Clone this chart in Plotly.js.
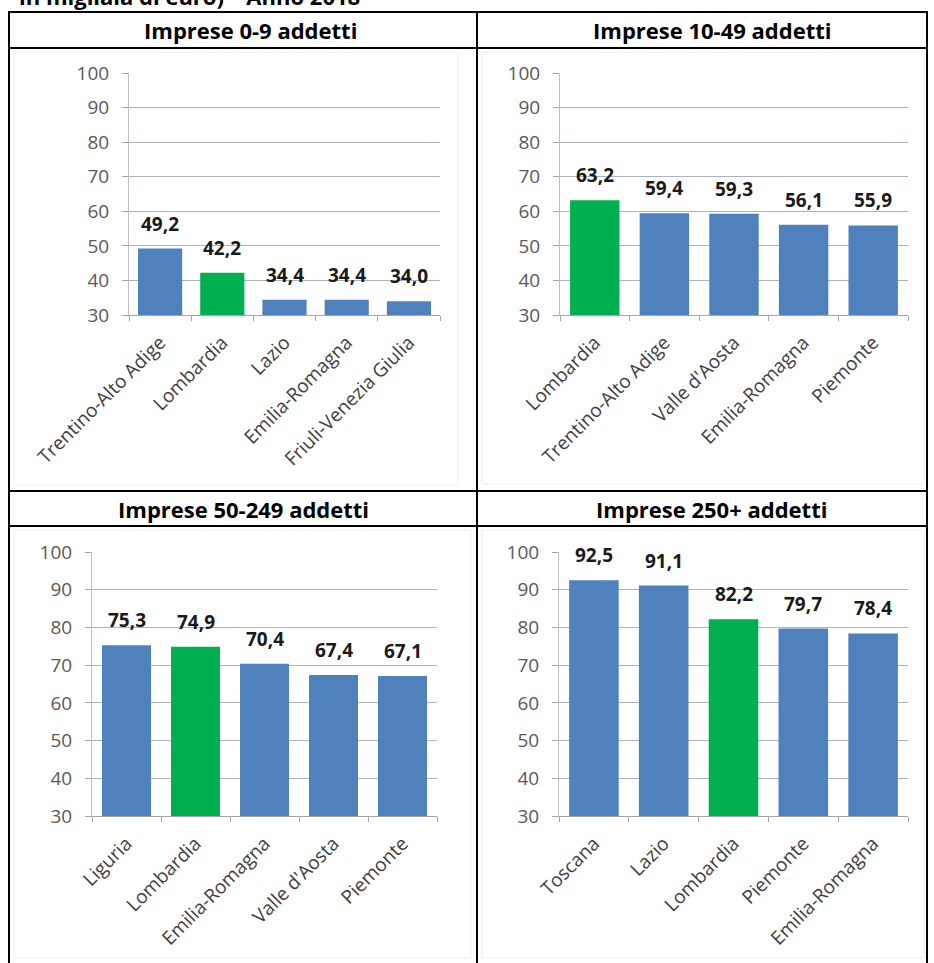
<!DOCTYPE html>
<html>
<head>
<meta charset="utf-8">
<script src="https://cdn.plot.ly/plotly-3.0.1.min.js"></script>
<style>
  html, body { margin: 0; padding: 0; background: #ffffff; }
  #chart { width: 934px; height: 963px; }
</style>
</head>
<body>
<div id="chart"></div>
<script>
// Regions and values (thousands of euro) per firm-size class
const regions09 = ['Trentino-Alto Adige', 'Lombardia', 'Lazio', 'Emilia-Romagna', 'Friuli-Venezia Giulia'];
const values09 = [49.2, 42.2, 34.4, 34.4, 34.0];

const regions1049 = ['Lombardia', 'Trentino-Alto Adige', "Valle d'Aosta", 'Emilia-Romagna', 'Piemonte'];
const values1049 = [63.2, 59.4, 59.3, 56.1, 55.9];

const regions50249 = ['Liguria', 'Lombardia', 'Emilia-Romagna', "Valle d'Aosta", 'Piemonte'];
const values50249 = [75.3, 74.9, 70.4, 67.4, 67.1];

const regions250 = ['Toscana', 'Lazio', 'Lombardia', 'Piemonte', 'Emilia-Romagna'];
const values250 = [92.5, 91.1, 82.2, 79.7, 78.4];

const panelTitles = ['Imprese 0-9 addetti', 'Imprese 10-49 addetti', 'Imprese 50-249 addetti', 'Imprese 250+ addetti'];
const topCaption = 'in migliaia di euro) \u2013 Anno 2018';
const yTickValues = [30, 40, 50, 60, 70, 80, 90, 100];
const highlightRegion = 'Lombardia';

// ---- page geometry (pixels) ----
const W = 934, H = 963;
const px = v => v / W;
const py = v => 1 - v / H;

const BLUE = '#4f81bd';
const GREEN = '#00b050';
const FONT = 'Open Sans, Lato, sans-serif';

const panels = [
  { regions: regions09,    values: values09,    x: [129, 440], y: [73, 315] },
  { regions: regions1049,  values: values1049,  x: [560, 908], y: [73, 315] },
  { regions: regions50249, values: values50249, x: [92, 437],  y: [552, 816] },
  { regions: regions250,   values: values250,   x: [559, 908], y: [552, 816] }
];

const fmt = v => v.toFixed(1).replace('.', ',');

const data = [];
const annotations = [];
const layout = {
  width: W, height: H,
  margin: { l: 0, r: 0, t: 0, b: 0 },
  paper_bgcolor: '#ffffff',
  plot_bgcolor: 'rgba(0,0,0,0)',
  showlegend: false,
  bargap: 0.29,
  font: { family: FONT, color: '#404040' },
  shapes: [],
  annotations: annotations
};

panels.forEach((p, i) => {
  const n = i === 0 ? '' : String(i + 1);
  const xa = 'x' + n, ya = 'y' + n;

  data.push({
    type: 'bar',
    x: p.regions,
    y: p.values,
    xaxis: xa, yaxis: ya,
    marker: { color: p.regions.map(r => r === highlightRegion ? GREEN : BLUE), line: { width: 0 } },
    hoverinfo: 'skip'
  });

  layout['xaxis' + n] = {
    domain: [px(p.x[0]), px(p.x[1])],
    anchor: ya,
    type: 'category',
    tickangle: -45,
    ticks: 'outside',
    tickson: 'boundaries',
    ticklen: 5,
    tickcolor: '#a6a6a6',
    ticklabelstandoff: 8,
    showline: true,
    linecolor: '#a6a6a6',
    linewidth: 1,
    showgrid: false,
    tickfont: { family: FONT, size: 19, color: '#404040' },
    automargin: false,
    fixedrange: true
  };

  layout['yaxis' + n] = {
    domain: [py(p.y[1]), py(p.y[0])],
    anchor: xa,
    range: [30, 100],
    tickmode: 'array',
    tickvals: yTickValues,
    ticks: 'outside',
    ticklen: 6,
    tickcolor: '#a6a6a6',
    ticklabelstandoff: 9,
    showline: true,
    linecolor: '#bfbfbf',
    linewidth: 1,
    showgrid: true,
    gridcolor: '#aab3c5',
    gridwidth: 1,
    zeroline: false,
    tickfont: { family: FONT, size: 19, color: '#595959' },
    automargin: false,
    fixedrange: true
  };

  // value labels above each bar
  p.regions.forEach((r, k) => {
    annotations.push({
      xref: xa, yref: ya,
      x: r, y: p.values[k],
      text: fmt(p.values[k]),
      showarrow: false,
      yanchor: 'bottom',
      yshift: 10,
      font: { family: FONT, size: 19, color: '#1a1a1a', weight: 'bold' }
    });
  });
});

// ---- table grid ----
const lineStyle = { color: '#000000', width: 2 };
const hLine = (y, x0, x1) => ({ type: 'line', xref: 'paper', yref: 'paper', x0: px(x0), x1: px(x1), y0: py(y), y1: py(y), line: lineStyle, layer: 'above' });
const vLine = (x, y0, y1) => ({ type: 'line', xref: 'paper', yref: 'paper', x0: px(x), x1: px(x), y0: py(y0), y1: py(y1), line: lineStyle, layer: 'above' });

// faint chart-area frames inside the cells
const frame = (x0, y0, x1, y1) => ({ type: 'rect', xref: 'paper', yref: 'paper', x0: px(x0), x1: px(x1), y0: py(y1), y1: py(y0), line: { color: '#eeeeee', width: 1 }, layer: 'below' });
layout.shapes.push(frame(14, 52, 458, 485), frame(482, 52, 924, 484), frame(14, 530, 471, 958), frame(482, 530, 924, 958));

layout.shapes.push(
  hLine(12, 9, 927), hLine(48, 9, 927), hLine(491, 9, 927), hLine(526, 9, 927),
  vLine(9, 11, H), vLine(477, 12, H), vLine(927, 11, H)
);

// ---- cell headers ----
const headerPos = [[250, 30], [712, 30], [243, 509], [711, 509]];
panelTitles.forEach((t, i) => {
  annotations.push({
    xref: 'paper', yref: 'paper',
    x: px(headerPos[i][0]), y: py(headerPos[i][1]),
    xanchor: 'center', yanchor: 'middle',
    text: t, showarrow: false,
    font: { family: FONT, size: 22, color: '#000000', weight: 'bold' }
  });
});

// caption line running off the top edge
annotations.push({
  xref: 'paper', yref: 'paper',
  x: px(17), y: py(-4),
  xanchor: 'left', yanchor: 'middle',
  text: topCaption, showarrow: false,
  font: { family: FONT, size: 22, color: '#000000', weight: 'bold' }
});

Plotly.newPlot('chart', data, layout, { displayModeBar: false, staticPlot: true });
</script>
</body>
</html>
